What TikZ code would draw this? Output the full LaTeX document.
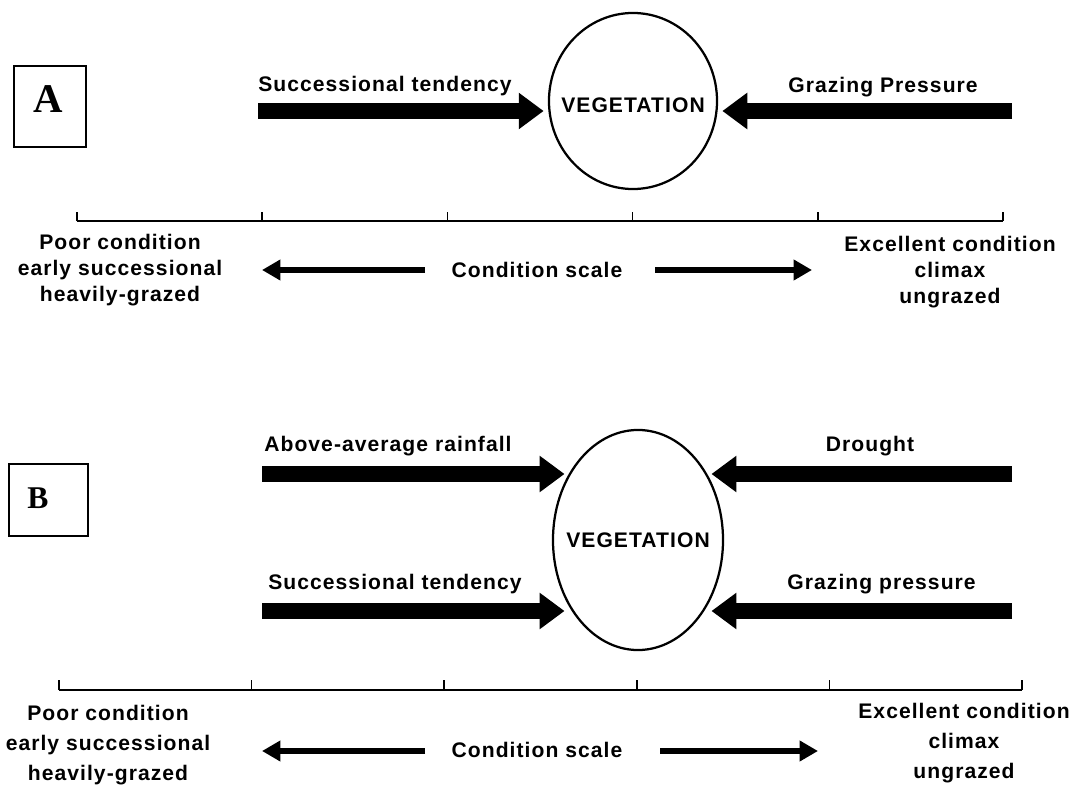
\documentclass[tikz,border=0pt]{standalone}
\usepackage{fontspec}
\setmainfont{Liberation Serif}
\newfontfamily\lblfont[LetterSpace=5]{Liberation Sans}
\usetikzlibrary{arrows.meta,positioning,calc,shapes.geometric}

\tikzset{
	lbl/.style={font=\lblfont\bfseries\fontsize{15}{18.4}\selectfont, inner sep=0pt},
	lblB/.style={lbl, font=\lblfont\bfseries\fontsize{15}{21.3}\selectfont},
	veg/.style={ellipse, draw, line width=1.6pt, inner sep=0pt, minimum width=4.2cm},
	panel/.style={draw, line width=1.3pt, inner sep=0pt},
	fat/.style={line width=11.3pt, -{Triangle[length=17.7pt,width=24.8pt]}},
	cond/.style={line width=3.6pt, -{Triangle[length=13pt,width=14pt]}},
	scaleline/.style={line width=2pt},
	tick/.style={line width=1.2pt}
}

\begin{document}
\begin{tikzpicture}[x=0.025cm, y=-0.025cm]
	\useasboundingbox (0,0) rectangle (1086,795);

	% panel A
	\node[panel, minimum width=1.8cm, minimum height=2.025cm] (boxA) at (50,106.5) {};
	\node[font=\bfseries\fontsize{29}{29}\selectfont] (letA) at (48,99) {A};

	\node[veg, minimum height=4.4cm] (vegA) at (633,101) {};
	\node[lbl] (vegAlbl) at (633,105) {VEGETATION};

	\coordinate (succA) at (258,111);
	\coordinate (grazA) at (1012,111);
	\path[fat, shorten >=3pt]
	  (succA) edge (succA -| vegA.west)
	  (grazA) edge (grazA -| vegA.east);
	\node[lbl, anchor=base west] (succAlbl) at (258,92) {Successional tendency};
	\node[lbl, anchor=base east] (grazAlbl) at (978,93) {Grazing Pressure};

	\coordinate (sA0) at (77,221);
	\coordinate (sA5) at (1003,221);
	\draw[scaleline] (sA0) -- (sA5);
	\foreach \t in {0,0.2,0.4,0.6,0.8,1}
	  \draw[tick] ($(sA0)!\t!(sA5)$) -- ++(0,-9);

	\node[lbl, align=center] (poorA) at (120,270) {Poor condition\\early successional\\heavily-grazed};
	\node[lbl] (scaleA) at (537,270) {Condition scale};
	\node[lbl, align=center] (excA) at (950,272) {Excellent condition\\climax\\ungrazed};
	\coordinate (lA0) at (425,270);
	\coordinate (lA1) at (262,270);
	\coordinate (rA0) at (655,270);
	\coordinate (rA1) at (812,270);
	\path[cond] (lA0) edge (lA1) (rA0) edge (rA1);

	% panel B
	\node[panel, minimum width=1.975cm, minimum height=1.8cm] (boxB) at (48.5,500) {};
	\node[font=\bfseries\fontsize{22.5}{22.5}\selectfont] (letB) at (38,498) {B};

	\node[veg, minimum width=4.25cm, minimum height=5.5cm] (vegB) at (638,540) {};
	\node[lbl] (vegBlbl) at (638,540) {VEGETATION};

	\coordinate (rainB) at (262,474);
	\coordinate (drouB) at (1012,474);
	\coordinate (succB) at (262,611);
	\coordinate (grazB) at (1012,611);
	\path[fat, shorten >=-9pt]
	  (rainB) edge (rainB -| vegB.west)
	  (drouB) edge (drouB -| vegB.east)
	  (succB) edge (succB -| vegB.west)
	  (grazB) edge (grazB -| vegB.east);
	\node[lbl, anchor=base west] (rainBlbl) at (264,451) {Above-average rainfall};
	\node[lbl, anchor=base] (drouBlbl) at (870,451) {Drought};
	\node[lbl, anchor=base west] (succBlbl) at (268,589) {Successional tendency};
	\node[lbl, anchor=base east] (grazBlbl) at (976,589) {Grazing pressure};

	\coordinate (sB0) at (59,690);
	\coordinate (sB5) at (1022,690);
	\draw[scaleline] (sB0) -- (sB5);
	\foreach \t in {0,0.2,0.4,0.6,0.8,1}
	  \draw[tick] ($(sB0)!\t!(sB5)$) -- ++(0,-10);

	\node[lblB, align=center] (poorB) at (108,745) {Poor condition\\early successional\\heavily-grazed};
	\node[lblB] (scaleB) at (537,750) {Condition scale};
	\node[lblB, align=center] (excB) at (964,743) {Excellent condition\\climax\\ungrazed};
	\coordinate (lB0) at (425,751);
	\coordinate (lB1) at (262,751);
	\coordinate (rB0) at (660,751);
	\coordinate (rB1) at (818,751);
	\path[cond] (lB0) edge (lB1) (rB0) edge (rB1);
\end{tikzpicture}
\end{document}
